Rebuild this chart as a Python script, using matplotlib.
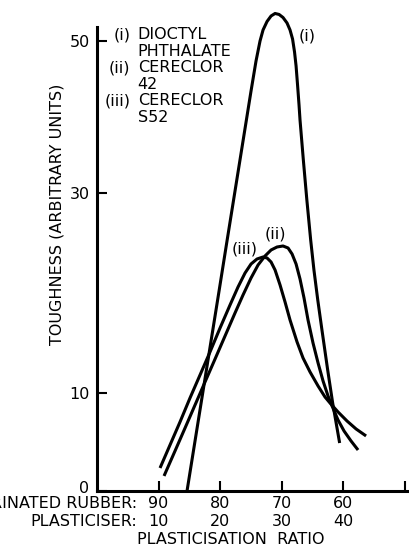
import matplotlib
matplotlib.use("Agg")
import matplotlib.pyplot as plt
import matplotlib.transforms as mtransforms
import numpy as np

# x = plasticiser parts, y = toughness (arbitrary units)
x_i = [14.61, 15.65, 16.69, 17.73, 18.77, 19.81, 21.10, 22.40, 23.70, 25.00, 25.81, 26.46,
       26.95, 27.60, 28.25, 28.90, 29.55, 30.19, 30.84, 31.33, 31.74, 32.06, 32.31, 32.55,
       32.79, 32.95, 33.49, 34.06, 34.68, 35.21, 35.83, 36.51, 37.44, 38.25, 39.38]
y_i = [0.00, 4.07, 8.14, 12.17, 16.17, 20.17, 25.17, 30.22, 36.80, 43.38, 47.33, 49.96,
       51.41, 52.53, 53.25, 53.58, 53.45, 53.05, 52.33, 51.41, 50.22, 48.51, 46.67, 44.17,
       41.54, 39.57, 34.30, 29.27, 25.27, 22.27, 19.27, 16.27, 12.27, 8.95, 4.88]

x_ii = [10.88, 12.66, 14.29, 15.91, 17.53, 19.16, 20.78, 22.40, 23.70, 25.00, 26.14, 27.27,
        28.25, 29.22, 30.19, 31.01, 31.66, 32.31, 32.95, 33.60, 34.25, 35.06, 35.88, 36.69,
        37.50, 38.15, 39.12, 40.10, 41.23, 42.37]
y_ii = [1.53, 4.07, 6.41, 8.75, 11.07, 13.37, 15.67, 17.97, 19.77, 21.47, 22.77, 23.67,
        24.27, 24.57, 24.67, 24.47, 23.87, 22.87, 21.37, 19.47, 17.27, 14.97, 12.97, 11.17,
        9.66, 8.65, 7.22, 6.10, 5.09, 4.17]

x_iii = [10.23, 11.85, 13.47, 15.10, 16.72, 18.34, 19.97, 21.59, 22.89, 24.03, 25.00, 25.97,
         26.95, 27.60, 28.25, 28.90, 29.71, 30.52, 31.33, 32.47, 33.44, 34.58, 35.88, 37.01,
         37.82, 39.12, 40.58, 42.05, 43.67]
y_iii = [2.34, 4.68, 7.02, 9.47, 11.77, 14.07, 16.47, 18.77, 20.57, 21.97, 22.87, 23.37,
         23.57, 23.47, 23.07, 22.27, 20.77, 19.07, 17.27, 15.07, 13.47, 12.07, 10.67, 9.56,
         8.95, 8.04, 7.12, 6.31, 5.60]

plast_ticks = [10, 20, 30, 40, 50]
rubber_labels = ["90", "80", "70", "60", ""]
plast_labels = ["10", "20", "30", "40", ""]
y_ticks = [0, 10, 30, 50]

# the printed y axis is not uniform: 10 units span ~100 px below 30, ~76 px above
knot_val = np.array([-50.0, 0.0, 10.0, 30.0, 50.0, 150.0])
knot_pos = np.array([-491.5, 0.0, 98.3, 298.3, 450.3, 1210.3])


def fwd(v):
    return np.interp(v, knot_val, knot_pos)


def inv(p):
    return np.interp(p, knot_pos, knot_val)


plt.rcParams['font.family'] = ['DejaVu Sans']
FS = 11.5
W, H = 410, 546
fig = plt.figure(figsize=(W / 100, H / 100), dpi=100)
ax = fig.add_axes([97 / W, (H - 491) / H, (W - 97) / W, (491 - 27) / H])
ax.set_yscale('function', functions=(fwd, inv))
ax.set_xlim(0, 50.8)
ax.set_ylim(0, 51.8)

for xs, ys in [(x_i, y_i), (x_ii, y_ii), (x_iii, y_iii)]:
    ax.plot(xs, ys, color='black', lw=2.2, clip_on=False,
            solid_capstyle='butt', solid_joinstyle='round')

for s in ['top', 'right']:
    ax.spines[s].set_visible(False)
for s in ['left', 'bottom']:
    ax.spines[s].set_linewidth(2.2)

ax.set_yticks(y_ticks)
ax.set_yticklabels([str(v) for v in y_ticks], fontsize=FS)
ax.set_xticks(plast_ticks)
ax.set_xticklabels([])
ax.tick_params(direction='in', length=7, width=1.5, pad=5)
ax.minorticks_off()

# the "0" sits a little above the x axis line in the original
zero_lab = ax.get_yticklabels()[0]
zero_lab.set_transform(zero_lab.get_transform() +
                       mtransforms.ScaledTranslation(-1 / 72, 3 / 72, fig.dpi_scale_trans))

tr = ax.get_xaxis_transform()
for xv, r, p in zip(plast_ticks, rubber_labels, plast_labels):
    ax.text(xv, -0.027, r, transform=tr, ha='center', va='center', fontsize=FS)
    ax.text(xv, -0.066, p, transform=tr, ha='center', va='center', fontsize=FS)
ax.text(6.5, -0.027, "CHLORINATED RUBBER:", transform=tr, ha='right', va='center', fontsize=FS)
ax.text(6.5, -0.066, "PLASTICISER:", transform=tr, ha='right', va='center', fontsize=FS)
ax.text(21.7, -0.104, "PLASTICISATION  RATIO", transform=tr, ha='center', va='center', fontsize=FS)

ax.set_ylabel("TOUGHNESS (ARBITRARY UNITS)", fontsize=FS)
ax.yaxis.set_label_coords(-0.105, 0.597)

# key
key_tags = ["(i)", "", "(ii)", "", "(iii)", ""]
key_text = ["DIOCTYL", "PHTHALATE", "CERECLOR", "42", "CERECLOR", "S52"]
for k, (tag, txt) in enumerate(zip(key_tags, key_text)):
    yy = 0.983 - k * 0.0355
    ax.text(5.4, yy, tag, transform=tr, ha='right', va='center', fontsize=FS)
    ax.text(6.6, yy, txt, transform=tr, ha='left', va='center', fontsize=FS)

ax.text(34.1, 50.6, "(i)", ha='center', va='center', fontsize=FS)
ax.text(28.9, 25.9, "(ii)", ha='center', va='center', fontsize=FS)
ax.text(23.9, 24.4, "(iii)", ha='center', va='center', fontsize=FS)

fig.savefig("out.png", dpi=100)
